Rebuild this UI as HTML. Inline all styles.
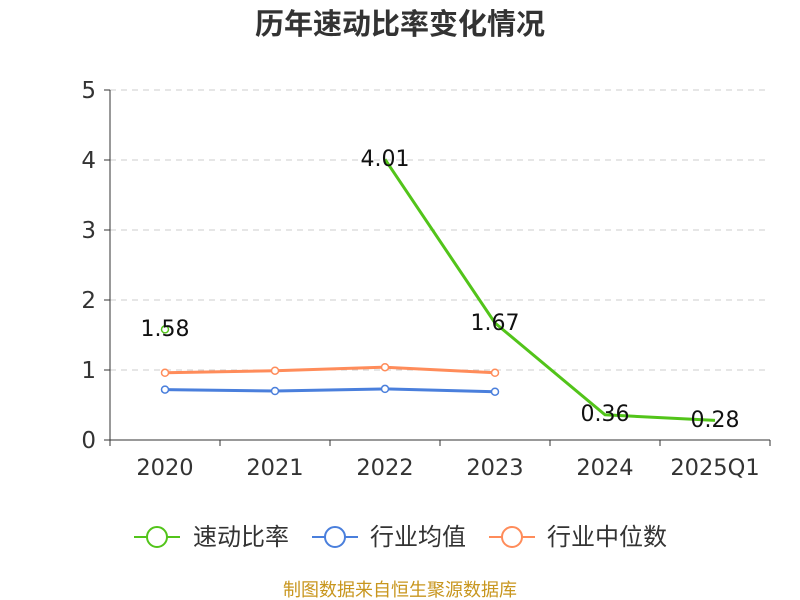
<!DOCTYPE html>
<html><head><meta charset="utf-8"><style>body{margin:0;background:#fff}svg{display:block}</style></head><body>
<svg width="800" height="600" xmlns="http://www.w3.org/2000/svg" font-family="DejaVu Sans, Noto Sans CJK SC, sans-serif">
<text x="400" y="34" text-anchor="middle" font-size="29" font-weight="bold" fill="#333" font-family="Noto Sans CJK SC, sans-serif">历年速动比率变化情况</text>
<g stroke="#ccc" stroke-dasharray="6,5" stroke-width="1">
<line x1="110" x2="770" y1="90" y2="90"/><line x1="110" x2="770" y1="160" y2="160"/><line x1="110" x2="770" y1="230" y2="230"/><line x1="110" x2="770" y1="300" y2="300"/><line x1="110" x2="770" y1="370" y2="370"/></g>
<g stroke="#333" stroke-width="1">
<line x1="110" y1="90" x2="110" y2="440"/><line x1="110" y1="440" x2="770" y2="440"/>
<line x1="104" x2="110" y1="90" y2="90"/><line x1="104" x2="110" y1="160" y2="160"/><line x1="104" x2="110" y1="230" y2="230"/><line x1="104" x2="110" y1="300" y2="300"/><line x1="104" x2="110" y1="370" y2="370"/><line x1="104" x2="110" y1="440" y2="440"/>
<line x1="110" x2="110" y1="440" y2="446"/><line x1="220" x2="220" y1="440" y2="446"/><line x1="330" x2="330" y1="440" y2="446"/><line x1="440" x2="440" y1="440" y2="446"/><line x1="550" x2="550" y1="440" y2="446"/><line x1="660" x2="660" y1="440" y2="446"/><line x1="770" x2="770" y1="440" y2="446"/></g>
<g font-size="23" fill="#333" text-anchor="end">
<text x="96" y="98">5</text><text x="96" y="168">4</text><text x="96" y="238">3</text><text x="96" y="308">2</text><text x="96" y="378">1</text><text x="96" y="448">0</text></g>
<g font-size="22.5" fill="#333" text-anchor="middle">
<text x="165" y="475">2020</text><text x="275" y="475">2021</text><text x="385" y="475">2022</text><text x="495" y="475">2023</text><text x="605" y="475">2024</text><text x="715" y="475">2025Q1</text></g>
<polyline fill="none" stroke="#ff8c5a" stroke-width="3" points="165,372.8 275,370.7 385,367.2 495,372.8"/>
<polyline fill="none" stroke="#4a7fdc" stroke-width="3" points="165,389.6 275,391 385,388.9 495,391.7"/>
<polyline fill="none" stroke="#52c41a" stroke-width="3" points="385,159.3 495,323 605,414.8 715,420.4"/>
<g fill="#fff" stroke-width="1.5">
<g stroke="#ff8c5a"><circle cx="165" cy="372.8" r="3.5"/><circle cx="275" cy="370.7" r="3.5"/><circle cx="385" cy="367.2" r="3.5"/><circle cx="495" cy="372.8" r="3.5"/></g>
<g stroke="#4a7fdc"><circle cx="165" cy="389.6" r="3.5"/><circle cx="275" cy="391" r="3.5"/><circle cx="385" cy="388.9" r="3.5"/><circle cx="495" cy="391.7" r="3.5"/></g>
<g stroke="#52c41a"><circle cx="165" cy="329.4" r="3.5"/></g></g>
<g font-size="22" fill="#111" text-anchor="middle">
<text x="165" y="336">1.58</text><text x="385" y="166">4.01</text><text x="495" y="330">1.67</text><text x="605" y="421">0.36</text><text x="715" y="427">0.28</text></g>
<g font-size="24" fill="#333" font-family="Noto Sans CJK SC, sans-serif">
<line x1="134" x2="180" y1="537" y2="537" stroke="#52c41a" stroke-width="2"/><circle cx="157" cy="537" r="10" fill="#fff" stroke="#52c41a" stroke-width="2"/><text x="193" y="545">速动比率</text>
<line x1="312" x2="358" y1="537" y2="537" stroke="#4a7fdc" stroke-width="2"/><circle cx="335" cy="537" r="10" fill="#fff" stroke="#4a7fdc" stroke-width="2"/><text x="370" y="545">行业均值</text>
<line x1="489" x2="535" y1="537" y2="537" stroke="#ff8c5a" stroke-width="2"/><circle cx="512" cy="537" r="10" fill="#fff" stroke="#ff8c5a" stroke-width="2"/><text x="547" y="545">行业中位数</text></g>
<text x="400" y="596" text-anchor="middle" font-size="18" fill="#c8961e" font-family="Noto Sans CJK SC, sans-serif">制图数据来自恒生聚源数据库</text>
</svg></body></html>
